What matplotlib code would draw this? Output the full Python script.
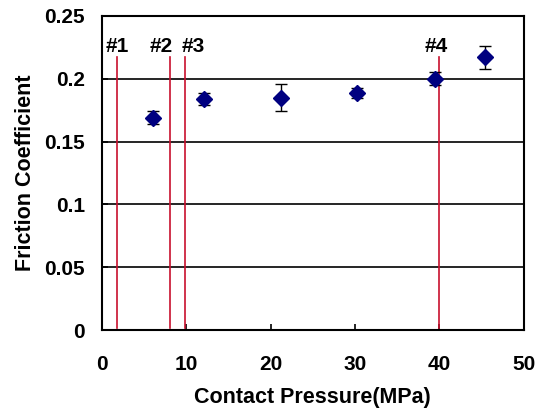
import matplotlib
matplotlib.use("Agg")
import matplotlib.pyplot as plt

# data
pressure = [6.0, 12.1, 21.2, 30.2, 39.5, 45.4]
friction = [0.169, 0.184, 0.185, 0.189, 0.200, 0.217]
friction_err = [0.005, 0.0045, 0.011, 0.004, 0.005, 0.009]

marker_x = [1.75, 8.1, 9.9, 39.9]
marker_labels = ["#1", "#2", "#3", "#4"]
label_x = [1.8, 7.05, 10.8, 39.6]

plt.rcParams['font.family'] = ['Liberation Sans', 'DejaVu Sans']
plt.rcParams['font.weight'] = 'bold'

fig = plt.figure(figsize=(5.45, 4.08), dpi=100)
ax = fig.add_axes([0.187, 0.191, 0.774, 0.770])

for y in [0.05, 0.1, 0.15, 0.2]:
    ax.axhline(y, color='black', linewidth=1.2, zorder=1)

for x in marker_x:
    ax.plot([x, x], [0.002, 0.217], color='#c8102e', linewidth=1.2, zorder=2)
for x, lab in zip(label_x, marker_labels):
    ax.text(x, 0.2256, lab, ha='center', va='center', fontsize=15, fontweight='bold')

ax.errorbar(pressure, friction, yerr=friction_err, fmt='D', color='#000080',
            markersize=8, ecolor='black', elinewidth=1, capsize=4, capthick=1, zorder=3)

ax.set_xlim(0, 50)
ax.set_ylim(0, 0.25)
ax.set_xticks([0, 10, 20, 30, 40, 50])
ax.set_yticks([0, 0.05, 0.1, 0.15, 0.2, 0.25])
ax.set_yticklabels(['0', '0.05', '0.1', '0.15', '0.2', '0.25'])
ax.tick_params(axis='both', direction='in', length=4, width=1.2, labelsize=15)
ax.tick_params(axis='x', pad=18)
ax.tick_params(axis='y', pad=12)
for s in ax.spines.values():
    s.set_linewidth(1.5)

ax.set_xlabel('Contact Pressure(MPa)', fontsize=15.5, fontweight='bold', labelpad=9)
ax.set_ylabel('Friction Coefficient', fontsize=15.5, fontweight='bold', labelpad=6)

fig.savefig('out.png', dpi=100)
